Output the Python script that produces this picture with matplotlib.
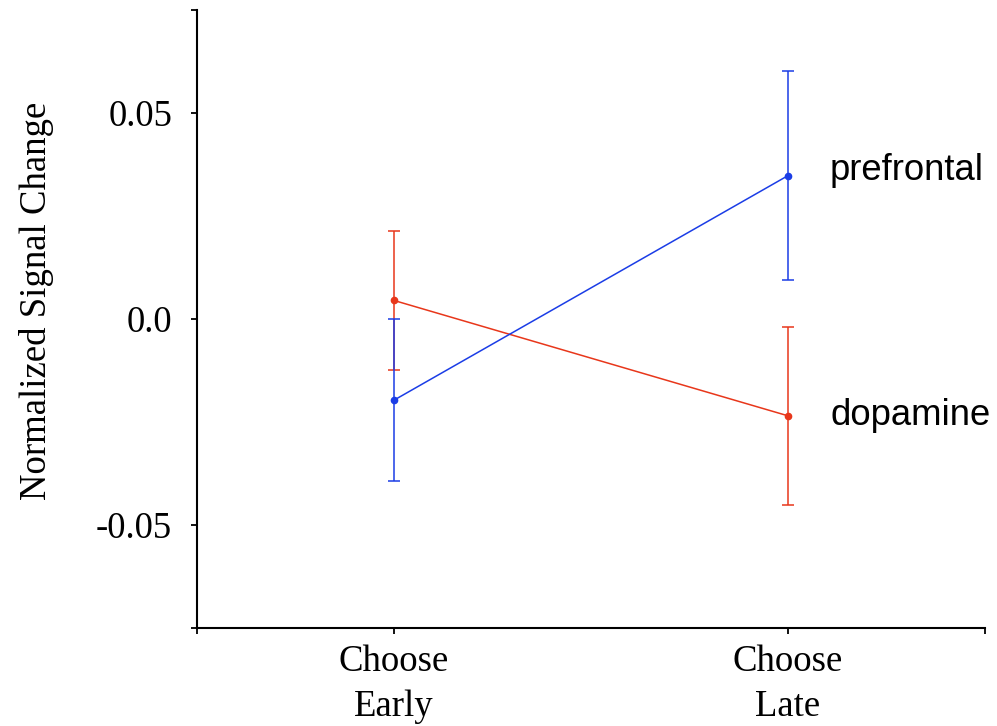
import matplotlib
matplotlib.use("Agg")
import matplotlib.pyplot as plt
from matplotlib.ticker import FixedLocator

categories = ["Choose\nEarly", "Choose\nLate"]
prefrontal_mean = [-0.0197, 0.0348]
prefrontal_err = [0.0197, 0.0254]
dopamine_mean = [0.0045, -0.0235]
dopamine_err = [0.0168, 0.0216]
series_names = ["prefrontal", "dopamine"]
yticks = [-0.05, 0.0, 0.05]
ytick_labels = ["-0.05", "0.0", "0.05"]

blue = "#1b3de6"
red = "#e8371b"

fig = plt.figure(figsize=(9.97, 7.26), dpi=100)
ax = fig.add_axes([197/997, 1 - 628/726, (985-197)/997, (628-10)/726])

x = [1, 2]
ax.errorbar(x, dopamine_mean, yerr=dopamine_err, color=red, ecolor=red,
            lw=1.1, elinewidth=1.1, capsize=4, capthick=1.1,
            marker="o", ms=4.5, zorder=3)
ax.errorbar(x, prefrontal_mean, yerr=prefrontal_err, color=blue, ecolor=blue,
            lw=1.1, elinewidth=1.1, capsize=4, capthick=1.1,
            marker="o", ms=4.5, zorder=3)

ax.set_xlim(0.5, 2.5)
ax.set_ylim(-0.075, 0.075)

ax.spines["top"].set_visible(False)
ax.spines["right"].set_visible(False)
for s in ("left", "bottom"):
    ax.spines[s].set_linewidth(1.5)

ax.set_xticks(x)
ax.set_xticklabels(categories, family="Liberation Serif", fontsize=26.5,
                   linespacing=1.38)
ax.xaxis.set_minor_locator(FixedLocator([0.5, 2.5]))
ax.set_yticks(yticks)
ax.set_yticklabels(ytick_labels, family="Liberation Serif", fontsize=26.5)
ax.yaxis.set_minor_locator(FixedLocator([-0.075, 0.075]))

ax.tick_params(axis="both", which="both", direction="out", length=4, width=1.3)
ax.tick_params(axis="y", which="major", pad=14)
ax.tick_params(axis="x", which="major", pad=8)

ax.set_ylabel("Normalized Signal Change", family="Liberation Serif", fontsize=26.5)
ax.yaxis.set_label_coords(-0.181, 0.529)

ax.annotate(series_names[0], (2, prefrontal_mean[1]), xytext=(42, -4),
            textcoords="offset pixels", va="baseline", ha="left",
            family="Liberation Sans", fontsize=26.3)
ax.annotate(series_names[1], (2, dopamine_mean[1]), xytext=(42, -9),
            textcoords="offset pixels", va="baseline", ha="left",
            family="Liberation Sans", fontsize=26.3)

fig.savefig("out.png", dpi=100)
